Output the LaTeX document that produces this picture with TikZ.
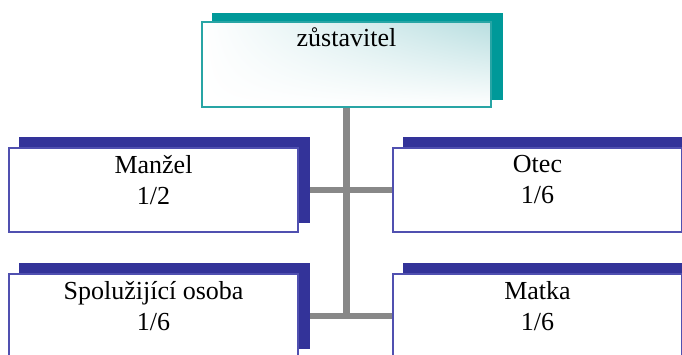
\documentclass[tikz,border=0pt]{standalone}
\usepackage{fontspec}
\setmainfont{Liberation Serif}
\usepackage{xcolor}
\usetikzlibrary{shadows,shadings}
\definecolor{tealdark}{RGB}{0,153,153}
\definecolor{tealline}{RGB}{40,165,165}
\definecolor{tealpale}{RGB}{184,222,224}
\definecolor{navy}{RGB}{51,51,153}
\definecolor{navyline}{RGB}{80,80,176}
\definecolor{linkgray}{RGB}{136,136,136}
\pgfdeclarelayer{back}
\pgfsetlayers{back,main}
\tikzset{
	headbox/.style={draw=tealline,line width=1.2pt,minimum width=289pt,minimum height=85pt,inner sep=0pt,
		shade,upper left=white,upper right=tealpale,lower left=white,lower right=white,
		copy shadow={shadow xshift=11pt,shadow yshift=8pt,fill=tealdark,draw=tealdark}},
	heirbox/.style={draw=navyline,line width=1.2pt,fill=white,minimum width=289pt,minimum height=84pt,inner sep=0pt,
		copy shadow={shadow xshift=11pt,shadow yshift=10pt,fill=navy,draw=navy}},
	boxtext/.style={anchor=north,align=center,inner sep=0pt,font=\fontsize{26}{31}\selectfont},
	link/.style={draw=linkgray,line width=6.5pt,line cap=rect}
}

\begin{document}
\begin{tikzpicture}[x=1pt,y=1pt]
	\useasboundingbox (0,0) rectangle (682,354);
	\node[headbox] (zustavitel) at (346.5,289.5) {};
	\node[boxtext] at ([yshift=-6pt]zustavitel.north) {zůstavitel};
	\node[heirbox] (manzel) at (153.5,164) {};
	\node[boxtext] at ([yshift=-8pt]manzel.north) {Manžel\\1/2};
	\node[heirbox] (otec) at (537.5,164) {};
	\node[boxtext] at ([yshift=-8pt]otec.north) {Otec\\1/6};
	\node[heirbox] (spoluzijici) at (153.5,38) {};
	\node[boxtext] at ([yshift=-8pt]spoluzijici.north) {Spolužijící osoba\\1/6};
	\node[heirbox] (matka) at (537.5,38) {};
	\node[boxtext] at ([yshift=-8pt]matka.north) {Matka\\1/6};
	% connectors behind the boxes
	\begin{pgfonlayer}{back}
		\draw[link] (zustavitel.south) -- (zustavitel.south |- spoluzijici.east);
		\draw[link] (manzel.east) -- (otec.west);
		\draw[link] (spoluzijici.east) -- (matka.west);
	\end{pgfonlayer}
\end{tikzpicture}
\end{document}
